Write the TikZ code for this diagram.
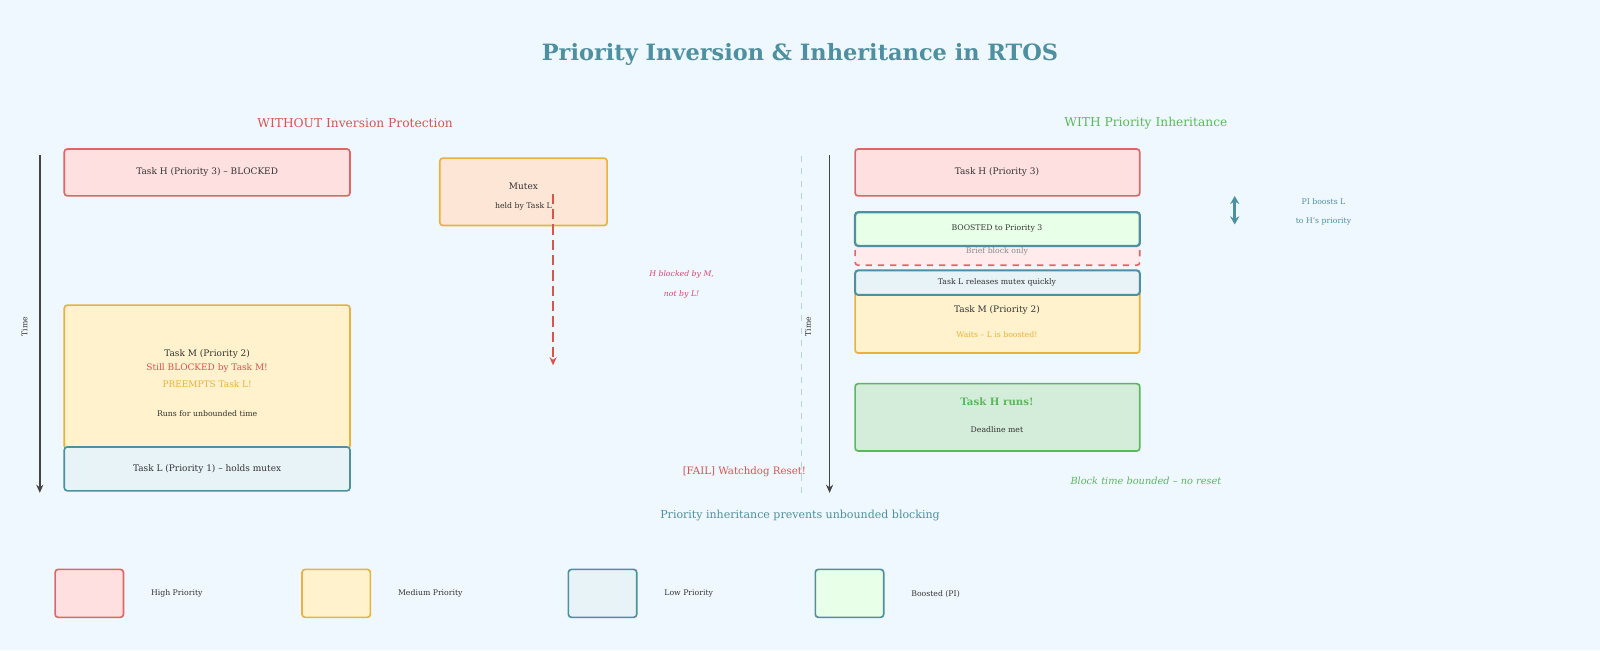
\documentclass[tikz,border=0pt]{standalone}
\usepackage{fontspec}
\setmainfont{DejaVu Serif}
\usetikzlibrary{arrows.meta}
\definecolor{bgc}{HTML}{F0F8FF}
\definecolor{teal}{HTML}{4E8FA0}
\definecolor{hiR}{HTML}{E06666}
\definecolor{hiF}{HTML}{FFE0E0}
\definecolor{meR}{HTML}{E8B23C}
\definecolor{meF}{HTML}{FFF2CC}
\definecolor{mxF}{HTML}{FDE6D6}
\definecolor{loF}{HTML}{E8F3F8}
\definecolor{boF}{HTML}{E8FFE8}
\definecolor{okR}{HTML}{5CB85C}
\definecolor{okF}{HTML}{D4EDDA}
\definecolor{failR}{HTML}{D9534F}
\definecolor{ink}{HTML}{333333}
\definecolor{axis}{HTML}{444444}
\tikzset{
  box/.style={draw, rounded corners=1.5pt, line width=0.8pt},
  high/.style={box, draw=hiR, fill=hiF},
  med/.style={box, draw=meR, fill=meF},
  low/.style={box, draw=teal, fill=loF},
  boost/.style={box, draw=teal, fill=boF, line width=1.1pt},
  txt/.style={font=\fontsize{4.4}{5}\selectfont, text=ink},
  sml/.style={font=\fontsize{3.8}{4}\selectfont, text=ink},
  timeax/.style={draw=axis, line width=0.8pt, -{Stealth[length=4pt,width=3.5pt]}}
}
\begin{document}
\begin{tikzpicture}[x=0.5pt,y=-0.5pt]
\fill[bgc] (0,0) rectangle (1568,637);

% title and headings
\node[font=\bfseries\fontsize{11}{13}\selectfont, text=teal] (title) at (784,53) {Priority Inversion \& Inheritance in RTOS};
\node[font=\fontsize{6}{7}\selectfont, text=failR] (hleft) at (348,121) {WITHOUT Inversion Protection};
\node[font=\fontsize{6}{7}\selectfont, text=okR] (hright) at (1123,121) {WITH Priority Inheritance};

% left: without protection
\coordinate (lt0) at (39,152); \coordinate (lt1) at (39,483);
\draw[timeax] (lt0) -- (lt1);
\node[sml, rotate=90] (ltime) at (24,320) {Time};
\draw[high] (63,146) rectangle (343,192);
\node[txt] (lh) at (203,169) {Task H (Priority 3) -- BLOCKED};
\draw[box, draw=meR, fill=mxF] (431,155) rectangle (595,221);
\node[txt] (mtx) at (513,183) {Mutex};
\node[sml] (mtxh) at (513,202) {held by Task L};
\coordinate (blk0) at (542,190); \coordinate (blk1) at (542,358);
\draw[failR, line width=1pt, dash pattern=on 5pt off 2.5pt, -{Stealth[length=4pt,width=3.5pt]}] (blk0) -- (blk1);
\node[sml, font=\itshape\fontsize{3.8}{4}\selectfont, text=failR!80!magenta] (bym) at (668,269) {H blocked by M,};
\node[sml, font=\itshape\fontsize{3.8}{4}\selectfont, text=failR!80!magenta] (notl) at (668,289) {not by L!};
\draw[med] (63,299) rectangle (343,440);
\node[txt] (lm) at (203,347) {Task M (Priority 2)};
\node[txt, text=failR] (lm1) at (203,361) {Still BLOCKED by Task M!};
\node[txt, text=meR] (lm2) at (203,376) {PREEMPTS Task L!};
\node[sml] (lm3) at (203,405) {Runs for unbounded time};
\draw[low] (63,438) rectangle (343,481);
\node[txt] (ll) at (203,460) {Task L (Priority 1) -- holds mutex};
\node[font=\fontsize{5}{6}\selectfont, text=failR, anchor=east] (fail) at (797,462) {[FAIL] Watchdog Reset!};

% divider
\coordinate (dv0) at (785,153); \coordinate (dv1) at (785,487);
\draw[teal!40, dashed, line width=0.5pt] (dv0) -- (dv1);

% right: with inheritance
\coordinate (rt0) at (813,152); \coordinate (rt1) at (813,483);
\draw[timeax] (rt0) -- (rt1);
\node[sml, rotate=90] (rtime) at (792,320) {Time};
\draw[high] (838,146) rectangle (1117,192);
\node[txt] (rh) at (977,169) {Task H (Priority 3)};
\draw[box, draw=hiR, fill=hiF!70!red!20, dashed] (838,230) rectangle (1117,260);
\draw[boost] (838,208) rectangle (1117,241);
\node[sml] (rb) at (977,224) {BOOSTED to Priority 3};
\node[sml, text=gray!90] (rbb) at (977,246) {Brief block only};
\draw[med] (838,280) rectangle (1117,346);
\draw[low, line width=1pt] (838,265) rectangle (1117,289);
\node[sml] (rl) at (977,277) {Task L releases mutex quickly};
\node[txt] (rm) at (977,304) {Task M (Priority 2)};
\node[sml, text=meR] (rm1) at (977,328) {Waits -- L is boosted!};
\draw[box, draw=okR, fill=okF] (838,376) rectangle (1117,442);
\node[txt, font=\bfseries\fontsize{5}{6}\selectfont, text=okR] (run) at (977,394) {Task H runs!};
\node[sml] (ddl) at (977,421) {Deadline met};
\node[txt, font=\itshape\fontsize{4.8}{5}\selectfont, text=okR] (bnd) at (1123,471) {Block time bounded -- no reset};
\coordinate (pi0) at (1210,192); \coordinate (pi1) at (1210,220);
\draw[teal, line width=1.4pt, {Stealth[length=4pt,width=4.5pt]}-{Stealth[length=4pt,width=4.5pt]}] (pi0) -- (pi1);
\node[sml, text=teal] (pi) at (1297,198) {PI boosts L};
\node[sml, text=teal] (pih) at (1297,217) {to H's priority};

\node[font=\fontsize{5.4}{6}\selectfont, text=teal] (foot) at (784,505) {Priority inheritance prevents unbounded blocking};

% legend
\foreach \x/\s/\t in {54/high/High Priority, 296/med/Medium Priority, 557/low/Low Priority, 799/boost/Boosted (PI)}{
  \draw[\s, line width=0.8pt] (\x,558) rectangle ++(67,47);
  \node[sml, anchor=west] at (\x+87,582) {\t};
}
\end{tikzpicture}
\end{document}
